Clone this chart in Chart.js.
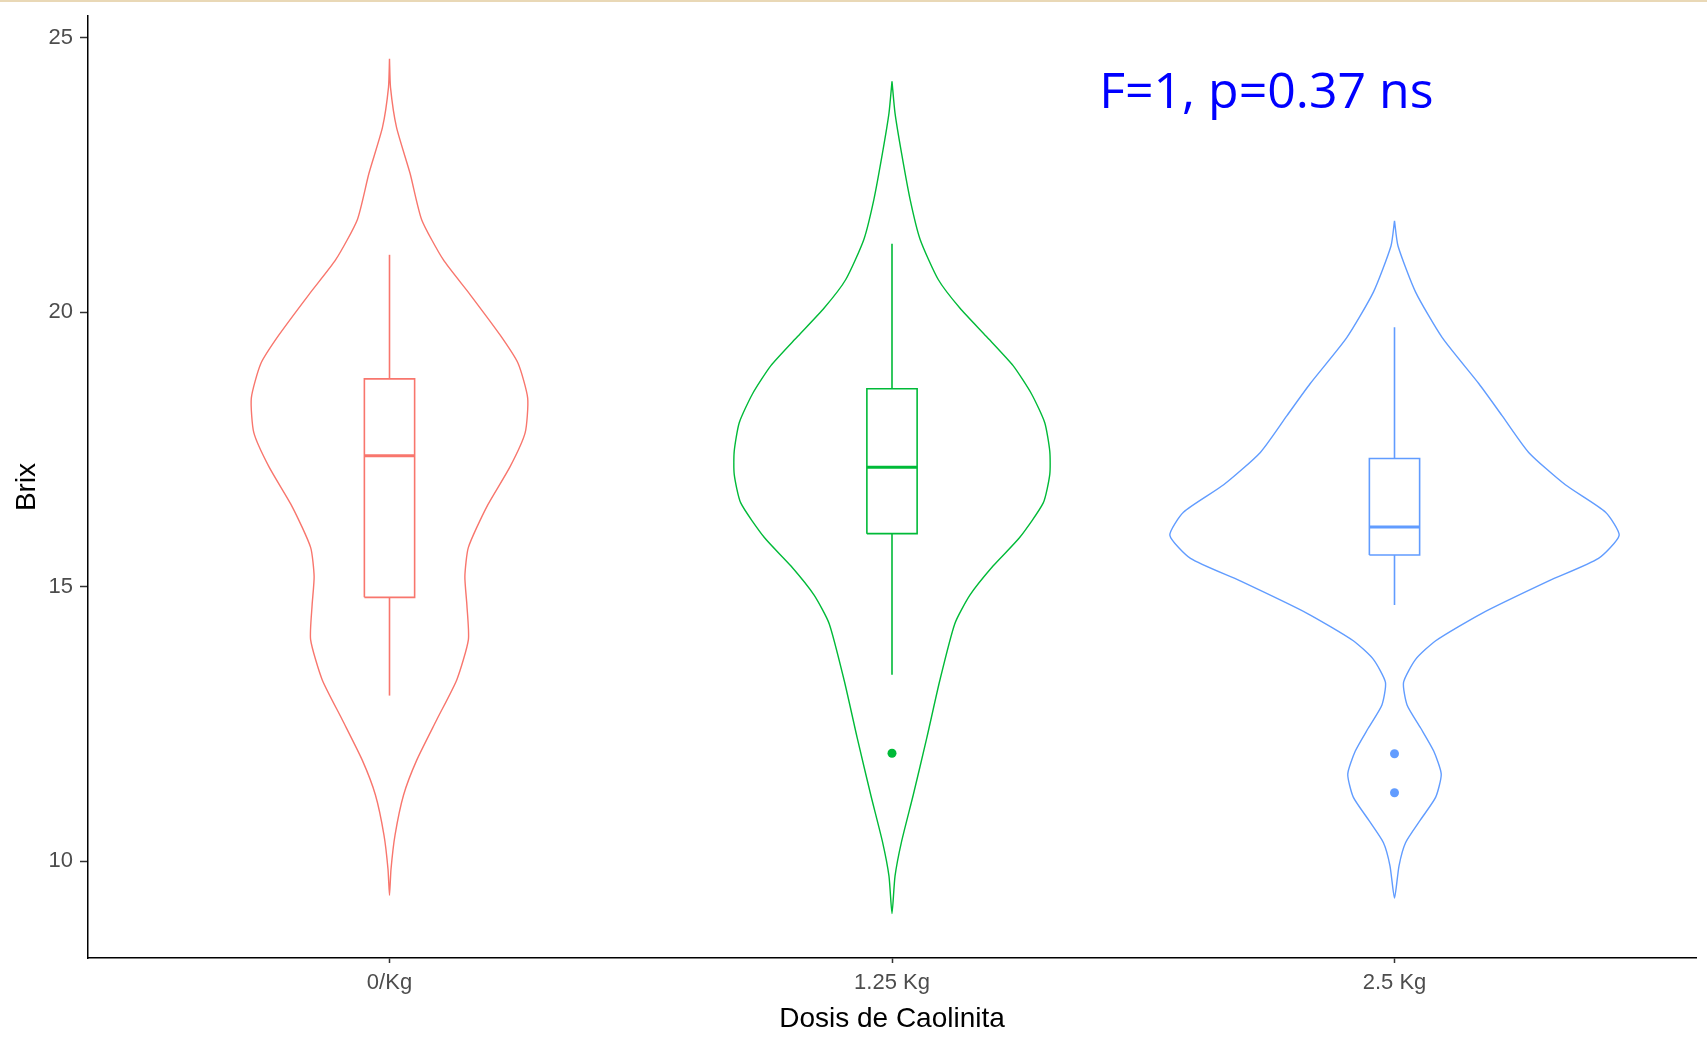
<!DOCTYPE html>
<html>
<head>
<meta charset="utf-8">
<script src="https://cdn.jsdelivr.net/npm/chart.js@4.4.0/dist/chart.umd.min.js"></script>
<style>
  html, body { margin: 0; padding: 0; background: #fff; }
  #caixa_grafico { width: 1707px; height: 1038px; position: relative; }
</style>
</head>
<body>
<div id="caixa_grafico"><canvas id="violino_brix"></canvas></div>
<script>
/* Violin + boxplot do Brix por dose de caolinita */

const categorias = ['0/Kg', '1.25 Kg', '2.5 Kg'];
const cores = ['#F8766D', '#00BA38', '#619CFF'];
const ticks_y = [10, 15, 20, 25];

// contorno do violino: valores de Brix (de cima para baixo) e meia largura em unidades de categoria
const violino_y_0kg = [24.62, 24.10, 23.37, 22.53, 21.69, 20.96, 20.33, 19.59, 19.07, 18.44, 17.81, 17.19,
    16.45, 15.72, 15.19, 14.67, 14.04, 13.31, 12.58, 11.84, 11.21, 10.48, 9.86, 9.38];
const violino_larg_0kg = [0, 0.002, 0.014, 0.041, 0.064, 0.107, 0.160, 0.220, 0.256, 0.275, 0.270, 0.240,
    0.193, 0.157, 0.150, 0.154, 0.157, 0.134, 0.094, 0.054, 0.028, 0.011, 0.003, 0];

const violino_y_125kg = [24.21, 23.63, 22.90, 22.06, 21.33, 20.60, 20.08, 19.56, 19.03, 18.51, 17.99, 17.47,
    17.05, 16.53, 15.90, 15.38, 14.85, 14.33, 13.29, 12.24, 11.20, 10.36, 9.73, 9.05];
const violino_larg_125kg = [0, 0.006, 0.019, 0.036, 0.056, 0.092, 0.135, 0.188, 0.241, 0.278, 0.304, 0.314,
    0.314, 0.301, 0.254, 0.201, 0.155, 0.125, 0.095, 0.069, 0.042, 0.019, 0.006, 0];

const violino_y_25kg = [21.67, 21.21, 20.37, 19.54, 18.70, 18.12, 17.45, 16.86, 16.36, 15.94, 15.52, 15.11,
    14.52, 14.02, 13.68, 13.26, 12.85, 12.43, 12.01, 11.59, 11.17, 10.76, 10.34, 9.92, 9.33];
const violino_larg_25kg = [0, 0.007, 0.042, 0.095, 0.168, 0.214, 0.267, 0.340, 0.420, 0.447, 0.406, 0.307,
    0.174, 0.082, 0.042, 0.018, 0.025, 0.052, 0.078, 0.093, 0.082, 0.052, 0.022, 0.009, 0];

// boxplot: [bigode inferior, Q1, mediana, Q3, bigode superior]
const box_0kg = [13.02, 14.81, 17.39, 18.79, 21.05];
const box_125kg = [13.40, 15.97, 17.18, 18.61, 21.25];
const box_25kg = [14.67, 15.58, 16.09, 17.34, 19.73];

const outliers_0kg = [];
const outliers_125kg = [11.97];
const outliers_25kg = [11.96, 11.25];

const anotacao = { texto: 'F=1, p=0.37 ns', x: 2.745, y: 23.72 };

const violinos = [
    [violino_y_0kg, violino_larg_0kg],
    [violino_y_125kg, violino_larg_125kg],
    [violino_y_25kg, violino_larg_25kg]
];
const boxes = [box_0kg, box_125kg, box_25kg];
const outliers = [outliers_0kg, outliers_125kg, outliers_25kg];
const meia_caixa = 0.05;

function contorno_violino(pos, ys, larguras) {
    const pontos = [];
    for (let i = 0; i < ys.length; i++) pontos.push({ x: pos + larguras[i], y: ys[i] });
    for (let i = ys.length - 2; i >= 0; i--) pontos.push({ x: pos - larguras[i], y: ys[i] });
    return pontos;
}

function linha(dados, cor, largura, tensao) {
    return {
        data: dados,
        showLine: true,
        borderColor: cor,
        backgroundColor: cor,
        borderWidth: largura,
        pointRadius: 0,
        tension: tensao,
        fill: false
    };
}

const datasets_violino = [];
categorias.forEach(function (c, i) {
    const pos = i + 1;
    const b = boxes[i];
    const cor = cores[i];
    datasets_violino.push(linha([
        { x: pos - meia_caixa, y: b[1] }, { x: pos + meia_caixa, y: b[1] },
        { x: pos + meia_caixa, y: b[3] }, { x: pos - meia_caixa, y: b[3] },
        { x: pos - meia_caixa, y: b[1] }
    ], cor, 1.6, 0));
    datasets_violino.push(linha([{ x: pos - meia_caixa, y: b[2] }, { x: pos + meia_caixa, y: b[2] }], cor, 3, 0));
    datasets_violino.push(linha([{ x: pos, y: b[3] }, { x: pos, y: b[4] }], cor, 1.6, 0));
    datasets_violino.push(linha([{ x: pos, y: b[0] }, { x: pos, y: b[1] }], cor, 1.6, 0));
    datasets_violino.push({
        data: outliers[i].map(function (v) { return { x: pos, y: v }; }),
        showLine: false,
        pointRadius: 4.5,
        pointBorderWidth: 0,
        backgroundColor: cor,
        borderColor: cor
    });
    datasets_violino.push(linha(contorno_violino(pos, violinos[i][0], violinos[i][1]), cor, 1.4, 0.2));
});

const fonte_eixo = { family: "'Liberation Sans', Arial, sans-serif", size: 22 };
const fonte_titulo = { family: "'Liberation Sans', Arial, sans-serif", size: 28 };

const plugin_texto = {
    id: 'texto_anova',
    beforeDraw(chart) {
        const ctx = chart.ctx;
        ctx.save();
        ctx.fillStyle = '#E9D8B6';
        ctx.fillRect(0, 0, chart.width, 2);
        ctx.restore();
    },
    afterDatasetsDraw(chart) {
        const ctx = chart.ctx;
        ctx.save();
        ctx.font = "50px 'Open Sans'";
        ctx.fillStyle = '#0000FF';
        ctx.textAlign = 'center';
        ctx.textBaseline = 'alphabetic';
        ctx.fillText(anotacao.texto, chart.scales.x.getPixelForValue(anotacao.x), chart.scales.y.getPixelForValue(anotacao.y));
        ctx.restore();
    }
};

const config_violino_brix = {
    type: 'scatter',
    data: { datasets: datasets_violino },
    options: {
        responsive: true,
        maintainAspectRatio: false,
        animation: false,
        layout: { padding: { top: 16, right: 11, left: 0, bottom: 0 } },
        plugins: { legend: { display: false }, tooltip: { enabled: false } },
        scales: {
            x: {
                type: 'linear',
                min: 0.4,
                max: 3.6,
                afterBuildTicks: function (s) { s.ticks = [1, 2, 3].map(function (v) { return { value: v }; }); },
                afterFit: function (s) { s.height = 80; s.paddingLeft = 0; s.paddingRight = 0; },
                ticks: {
                    callback: function (v) { return categorias[Math.round(v) - 1]; },
                    color: '#4D4D4D',
                    font: fonte_eixo,
                    padding: 7,
                    maxRotation: 0
                },
                grid: { drawOnChartArea: false, tickLength: 5, tickColor: '#333', tickWidth: 1.5 },
                border: { display: true, color: '#000', width: 1.5 },
                title: { display: true, text: 'Dosis de Caolinita', color: '#000', font: fonte_titulo, padding: { top: 0, bottom: 2 } }
            },
            y: {
                type: 'linear',
                min: 8.24,
                max: 25.40,
                afterBuildTicks: function (s) { s.ticks = ticks_y.map(function (v) { return { value: v }; }); },
                afterFit: function (s) { s.width = 88; s.paddingTop = 0; s.paddingBottom = 0; },
                ticks: { color: '#4D4D4D', font: fonte_eixo, padding: 7 },
                grid: { drawOnChartArea: false, tickLength: 8, tickColor: '#333', tickWidth: 1.5 },
                border: { display: true, color: '#000', width: 1.5 },
                title: { display: true, text: 'Brix', color: '#000', font: fonte_titulo, padding: { top: 10, bottom: 0 } }
            }
        }
    },
    plugins: [plugin_texto]
};

const grafico_violino_brix = new Chart(
    document.getElementById('violino_brix'),
    config_violino_brix
);
</script>
</body>
</html>
